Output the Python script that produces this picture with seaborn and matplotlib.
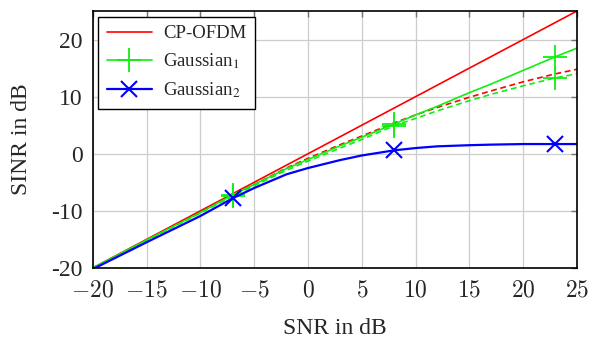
import numpy as np
import matplotlib
matplotlib.use("Agg")
import matplotlib.pyplot as plt
from matplotlib.lines import Line2D
import seaborn as sns

# SNR grid (dB) shared by all curves
snr = [-20, -15, -10, -7, -5, -2, 0, 3, 5, 8, 10, 12, 15, 17, 20, 23, 25]

sinr_cp_ofdm = [-20, -15, -10, -7, -5, -2, 0, 3, 5, 8, 10, 12, 15, 17, 20, 23, 25]
sinr_cp_ofdm_dashed = [-20, -15.1, -10.2, -7.2, -5.4, -2.5, -0.8, 1.6, 3.1, 5.4, 6.8, 8.1, 9.9, 11.0, 12.6, 14.0, 14.8]
sinr_gauss1 = [-20, -15.1, -10.3, -7.2, -5.4, -2.6, -1.0, 1.4, 2.9, 5.2, 6.8, 8.3, 10.7, 12.2, 14.6, 17.0, 18.5]
sinr_gauss1_dashed = [-20, -15.2, -10.4, -7.4, -5.6, -2.9, -1.3, 1.0, 2.5, 4.9, 6.2, 7.5, 9.3, 10.4, 11.9, 13.3, 14.0]
sinr_gauss2 = [-20.2, -15.5, -10.9, -7.8, -6.0, -3.6, -2.5, -1.1, -0.3, 0.6, 1.0, 1.3, 1.5, 1.6, 1.7, 1.7, 1.7]

marker_idx = [3, 9, 15]  # markers at SNR = -7, 8, 23 dB

x_ticks = [-20, -15, -10, -5, 0, 5, 10, 15, 20, 25]
x_tick_labels = [f"${v}$" for v in x_ticks]
y_ticks = [-20, -10, 0, 10, 20]
y_tick_labels = ["-20", "-10", "0", "10", "20"]
legend_labels = ["CP-OFDM", "Gaussian$_1$", "Gaussian$_2$"]

sns.set_theme(style="whitegrid")
plt.rcParams["font.family"] = ["Liberation Serif", "DejaVu Serif"]
plt.rcParams["mathtext.fontset"] = "stix"

fig = plt.figure(figsize=(5.92, 3.38), dpi=100)
ax = fig.add_axes([0.1566, 0.2071, 0.8181, 0.7604])

red, green, blue = "#ff0000", "#11ee11", "#0000ff"
dash = (0, (3.5, 2.2))
g_mk = dict(marker="+", markersize=17, markeredgewidth=1.3, markevery=marker_idx,
            markeredgecolor=green)
b_mk = dict(marker="x", markersize=12, markeredgewidth=1.5, markevery=marker_idx,
            markeredgecolor=blue)

sns.lineplot(x=snr, y=sinr_cp_ofdm, ax=ax, color=red, linewidth=1.2)
sns.lineplot(x=snr, y=sinr_cp_ofdm_dashed, ax=ax, color=red, linewidth=1.2, linestyle=dash)
sns.lineplot(x=snr, y=sinr_gauss1, ax=ax, color=green, linewidth=1.2, **g_mk)
sns.lineplot(x=snr, y=sinr_gauss1_dashed, ax=ax, color=green, linewidth=1.2, linestyle=dash, **g_mk)
sns.lineplot(x=snr, y=sinr_gauss2, ax=ax, color=blue, linewidth=1.6, **b_mk)

ax.set_xlim(-20, 25)
ax.set_ylim(-20, 25)
ax.set_xticks(x_ticks)
ax.set_xticklabels(x_tick_labels, math_fontfamily="cm")
ax.set_yticks(y_ticks)
ax.set_yticklabels(y_tick_labels)
ax.tick_params(axis="both", labelsize=17, direction="in", length=4, width=1,
               color="0.45", top=True, right=True)
ax.tick_params(axis="x", pad=9)
ax.tick_params(axis="y", pad=7)
ax.grid(True, color="0.8", linewidth=0.9)
for sp in ax.spines.values():
    sp.set_color("black")
    sp.set_linewidth(1.2)

ax.set_xlabel("SNR in dB", fontsize=17, labelpad=12)
ax.set_ylabel("SINR in dB", fontsize=17, labelpad=14)

handles = [
    Line2D([], [], color=red, linewidth=1.2),
    Line2D([], [], color=green, linewidth=1.2, marker="+", markersize=17, markeredgewidth=1.3),
    Line2D([], [], color=blue, linewidth=1.6, marker="x", markersize=12, markeredgewidth=1.5),
]
leg = ax.legend(handles, legend_labels, loc="upper left", fontsize=13.5, frameon=True,
                fancybox=False, edgecolor="black", framealpha=1, handlelength=2.4,
                borderaxespad=0.3, labelspacing=0.5, handletextpad=0.6, borderpad=0.45)
leg.get_frame().set_linewidth(1.0)

fig.savefig("out.png", dpi=100)
